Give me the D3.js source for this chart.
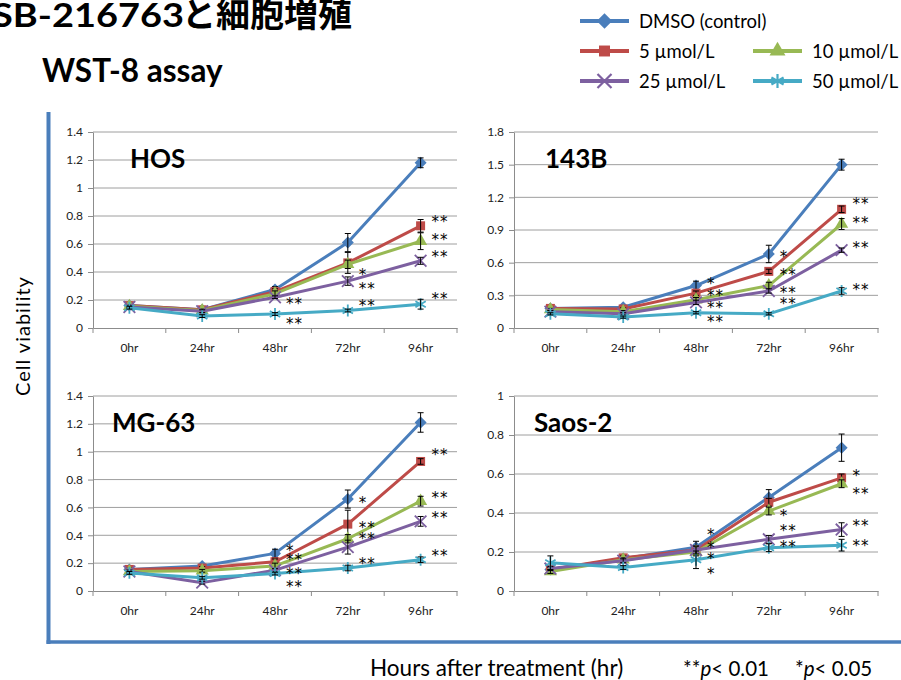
<!DOCTYPE html>
<html>
<head>
<meta charset="utf-8">
<script src="https://cdn.jsdelivr.net/npm/d3@7"></script>
<style>
  body { margin: 0; background: #fff; }
  svg { display: block; }
</style>
</head>
<body>
<div id="chart"></div>
<script>
// categories
const hours = ["0hr", "24hr", "48hr", "72hr", "96hr"];
const doses = ["DMSO (control)", "5 µmol/L", "10 µmol/L", "25 µmol/L", "50 µmol/L"];
const cellLines = ["HOS", "143B", "MG-63", "Saos-2"];

// mean values, one row per dose (DMSO, 5, 10, 25, 50)
const hosMeans = [
  [0.16, 0.13, 0.275, 0.61, 1.18],
  [0.16, 0.13, 0.26, 0.465, 0.73],
  [0.155, 0.125, 0.245, 0.455, 0.62],
  [0.15, 0.12, 0.22, 0.335, 0.48],
  [0.145, 0.085, 0.10, 0.125, 0.17]
];
const b143Means = [
  [0.18, 0.19, 0.39, 0.68, 1.50],
  [0.18, 0.175, 0.32, 0.52, 1.09],
  [0.17, 0.15, 0.26, 0.39, 0.955],
  [0.15, 0.13, 0.235, 0.34, 0.715],
  [0.13, 0.10, 0.14, 0.13, 0.34]
];
const mg63Means = [
  [0.155, 0.18, 0.27, 0.66, 1.21],
  [0.155, 0.165, 0.21, 0.48, 0.93],
  [0.14, 0.145, 0.18, 0.375, 0.645],
  [0.14, 0.06, 0.15, 0.315, 0.50],
  [0.13, 0.095, 0.125, 0.165, 0.225]
];
const saos2Means = [
  [0.11, 0.165, 0.225, 0.48, 0.735],
  [0.11, 0.17, 0.21, 0.455, 0.58],
  [0.10, 0.16, 0.20, 0.41, 0.55],
  [0.115, 0.155, 0.21, 0.265, 0.315],
  [0.145, 0.12, 0.16, 0.222, 0.235]
];

// error bars (+/-)
const hosErrors = [
  [0.01, 0.01, 0.02, 0.065, 0.035],
  [0.01, 0.01, 0.02, 0.075, 0.045],
  [0.01, 0.01, 0.02, 0.03, 0.06],
  [0.01, 0.01, 0.01, 0.03, 0.025],
  [0.01, 0.01, 0.01, 0.01, 0.035]
];
const b143Errors = [
  [0.01, 0.01, 0.04, 0.08, 0.05],
  [0.01, 0.01, 0.02, 0.02, 0.03],
  [0.01, 0.01, 0.02, 0.03, 0.05],
  [0.01, 0.01, 0.02, 0.02, 0.02],
  [0.01, 0.01, 0.01, 0.01, 0.03]
];
const mg63Errors = [
  [0.01, 0.01, 0.03, 0.065, 0.07],
  [0.01, 0.01, 0.02, 0.1, 0.02],
  [0.01, 0.01, 0.02, 0.03, 0.035],
  [0.01, 0.01, 0.01, 0.05, 0.035],
  [0.01, 0.01, 0.01, 0.02, 0.02]
];
const saos2Errors = [
  [0.01, 0.01, 0.03, 0.04, 0.07],
  [0.01, 0.01, 0.02, 0.02, 0.02],
  [0.01, 0.01, 0.02, 0.02, 0.02],
  [0.01, 0.01, 0.02, 0.02, 0.035],
  [0.035, 0.01, 0.045, 0.02, 0.03]
];

// significance marks: [time, value, label]
const hosStars = [
  ["48hr", 0.2, "**"], ["48hr", 0.055, "**"],
  ["72hr", 0.405, "*"], ["72hr", 0.305, "**"], ["72hr", 0.18, "**"],
  ["96hr", 0.78, "**"], ["96hr", 0.655, "**"], ["96hr", 0.53, "**"], ["96hr", 0.23, "**"]
];
const b143Stars = [
  ["48hr", 0.435, "*"], ["48hr", 0.33, "**"], ["48hr", 0.22, "**"], ["48hr", 0.083, "**"],
  ["72hr", 0.68, "*"], ["72hr", 0.515, "**"], ["72hr", 0.35, "**"], ["72hr", 0.25, "**"],
  ["96hr", 1.17, "**"], ["96hr", 1.0, "**"], ["96hr", 0.765, "**"], ["96hr", 0.385, "**"]
];
const mg63Stars = [
  ["48hr", 0.315, "*"], ["48hr", 0.245, "**"], ["48hr", 0.15, "**"], ["48hr", 0.055, "**"],
  ["72hr", 0.655, "*"], ["72hr", 0.48, "**"], ["72hr", 0.395, "**"], ["72hr", 0.22, "**"],
  ["96hr", 1.0, "**"], ["96hr", 0.69, "**"], ["96hr", 0.55, "**"], ["96hr", 0.28, "**"]
];
const saos2Stars = [
  ["48hr", 0.305, "*"], ["48hr", 0.24, "*"], ["48hr", 0.183, "*"], ["48hr", 0.103, "*"],
  ["72hr", 0.405, "*"], ["72hr", 0.325, "**"], ["72hr", 0.245, "**"],
  ["96hr", 0.607, "*"], ["96hr", 0.516, "**"], ["96hr", 0.35, "**"], ["96hr", 0.25, "**"]
];

// y tick labels
const hosTicks = [0, 0.2, 0.4, 0.6, 0.8, 1, 1.2, 1.4];
const b143Ticks = [0, 0.3, 0.6, 0.9, 1.2, 1.5, 1.8];
const mg63Ticks = [0, 0.2, 0.4, 0.6, 0.8, 1, 1.2, 1.4];
const saos2Ticks = [0, 0.2, 0.4, 0.6, 0.8, 1];

const width = 901;
const height = 680;
const font = "Lato, 'Noto Sans', sans-serif";
const blue = "#4a7ebb";

// Excel style diamond (as wide as it is tall)
const squareDiamond = {
  draw(ctx, size) {
    const r = Math.sqrt(size / 2);
    ctx.moveTo(0, -r);
    ctx.lineTo(r, 0);
    ctx.lineTo(0, r);
    ctx.lineTo(-r, 0);
    ctx.closePath();
  }
};

const colors = ["#4a7ebb", "#be4b48", "#98b954", "#7d60a0", "#46aac5"];
const symbols = [squareDiamond, d3.symbolSquare, d3.symbolTriangle, d3.symbolTimes, d3.symbolAsterisk];
const symbolSize = [72, 81, 75, 90, 100];
const stroked = [false, false, false, true, true];

const svg = d3.select("#chart")
  .append("svg")
  .attr("width", width)
  .attr("height", height)
  .style("font-family", font);

// panel layout
const panels = [
  { name: cellLines[0], means: hosMeans, errs: hosErrors, stars: hosStars, ticks: hosTicks,
    left: 93, right: 457, bottom: 328, top: 132, tx: 130, ty: 168 },
  { name: cellLines[1], means: b143Means, errs: b143Errors, stars: b143Stars, ticks: b143Ticks,
    left: 514, right: 878, bottom: 328, top: 132, tx: 545, ty: 168 },
  { name: cellLines[2], means: mg63Means, errs: mg63Errors, stars: mg63Stars, ticks: mg63Ticks,
    left: 93, right: 457, bottom: 591, top: 396, tx: 112, ty: 432 },
  { name: cellLines[3], means: saos2Means, errs: saos2Errors, stars: saos2Stars, ticks: saos2Ticks,
    left: 514, right: 878, bottom: 591, top: 396, tx: 534, ty: 432 }
];

panels.forEach(p => {
  const g = svg.append("g");

  const x = d3.scaleBand()
    .domain(hours)
    .range([p.left, p.right]);
  const y = d3.scaleLinear()
    .domain([0, d3.max(p.ticks)])
    .range([p.bottom, p.top]);
  const cx = h => x(h) + x.bandwidth() / 2;

  // gridlines
  g.append("g")
    .selectAll("line")
    .data(p.ticks.slice(1))
    .join("line")
    .attr("x1", p.left)
    .attr("x2", p.right)
    .attr("y1", d => y(d))
    .attr("y2", d => y(d))
    .attr("stroke", "#9e9e9e")
    .attr("stroke-width", 1);

  // y axis
  const ya = g.append("g")
    .attr("transform", `translate(${p.left},0)`)
    .call(d3.axisLeft(y).tickValues(p.ticks).tickSize(5).tickSizeOuter(0).tickPadding(5).tickFormat(d => String(d)));
  ya.select(".domain").attr("stroke", "#8c8c8c");
  ya.selectAll(".tick line").attr("stroke", "#8c8c8c");
  ya.selectAll("text").attr("font-size", 12).attr("font-family", font).attr("fill", "#222");

  // x axis
  const xa = g.append("g")
    .attr("transform", `translate(0,${p.bottom})`)
    .call(d3.axisBottom(x).tickSize(0).tickSizeOuter(0).tickPadding(15));
  xa.select(".domain").attr("stroke", "#8c8c8c");
  xa.selectAll("text").attr("font-size", 12).attr("font-family", font).attr("fill", "#222");
  xa.selectAll(".edge")
    .data(hours.map(h => x(h)).concat([p.right]))
    .join("line")
    .attr("class", "edge")
    .attr("x1", d => d)
    .attr("x2", d => d)
    .attr("y1", 0)
    .attr("y2", 5)
    .attr("stroke", "#8c8c8c");

  // series lines and markers
  p.means.forEach((vals, i) => {
    const pts = vals.map((v, j) => ({ h: hours[j], v: v, e: p.errs[i][j] }));
    g.append("path")
      .datum(pts)
      .attr("fill", "none")
      .attr("stroke", colors[i])
      .attr("stroke-width", 3)
      .attr("stroke-linejoin", "round")
      .attr("d", d3.line().x(d => cx(d.h)).y(d => y(d.v)));

    g.append("g")
      .selectAll("path")
      .data(pts)
      .join("path")
      .attr("transform", d => `translate(${cx(d.h)},${y(d.v)})`)
      .attr("d", d3.symbol().type(symbols[i]).size(symbolSize[i]))
      .attr("fill", stroked[i] ? "none" : colors[i])
      .attr("stroke", stroked[i] ? colors[i] : "none")
      .attr("stroke-width", 1.8);

    // error bars
    const eb = g.append("g")
      .selectAll("g")
      .data(pts)
      .join("g")
      .attr("stroke", "#000")
      .attr("stroke-width", 1);
    eb.append("line")
      .attr("x1", d => cx(d.h)).attr("x2", d => cx(d.h))
      .attr("y1", d => y(d.v - d.e)).attr("y2", d => y(d.v + d.e));
    eb.append("line")
      .attr("x1", d => cx(d.h) - 3).attr("x2", d => cx(d.h) + 3)
      .attr("y1", d => y(d.v + d.e)).attr("y2", d => y(d.v + d.e));
    eb.append("line")
      .attr("x1", d => cx(d.h) - 3).attr("x2", d => cx(d.h) + 3)
      .attr("y1", d => y(d.v - d.e)).attr("y2", d => y(d.v - d.e));
  });

  // significance marks
  g.append("g")
    .selectAll("text")
    .data(p.stars)
    .join("text")
    .attr("x", d => cx(d[0]) + 11)
    .attr("y", d => y(d[1]) + 8.5)
    .attr("font-family", "'DejaVu Sans', sans-serif")
    .attr("font-size", 15)
    .attr("letter-spacing", 1)
    .attr("fill", "#000")
    .text(d => d[2]);

  // panel title
  g.append("text")
    .attr("x", p.tx)
    .attr("y", p.ty)
    .attr("font-size", 26)
    .attr("font-weight", "bold")
    .attr("fill", "#000")
    .text(p.name);
});

// frame lines
svg.append("line")
  .attr("x1", 48.5).attr("x2", 48.5)
  .attr("y1", 112).attr("y2", 644)
  .attr("stroke", blue).attr("stroke-width", 4);
svg.append("line")
  .attr("x1", 46.5).attr("x2", width)
  .attr("y1", 642).attr("y2", 642)
  .attr("stroke", blue).attr("stroke-width", 3.5);

// titles (the slide title runs off the left edge)
svg.append("text")
  .attr("x", 184)
  .attr("y", 27)
  .attr("text-anchor", "end")
  .attr("font-size", 32)
  .attr("font-weight", "bold")
  .attr("textLength", 192)
  .attr("lengthAdjust", "spacingAndGlyphs")
  .text("SB-216763");
svg.append("text")
  .attr("x", 182)
  .attr("y", 27)
  .attr("font-family", "'Noto Sans CJK JP', sans-serif")
  .attr("font-size", 34)
  .attr("font-weight", "bold")
  .text("と細胞増殖");
svg.append("text")
  .attr("x", 42)
  .attr("y", 82)
  .attr("font-size", 31.5)
  .attr("font-weight", "bold")
  .text("WST-8 assay");

// axis titles
svg.append("text")
  .attr("transform", "translate(30,336) rotate(-90)")
  .attr("text-anchor", "middle")
  .attr("font-size", 20)
  .attr("letter-spacing", 1)
  .text("Cell  viability");
svg.append("text")
  .attr("x", 370)
  .attr("y", 676)
  .attr("font-size", 22.5)
  .text("Hours after treatment (hr)");

const note = svg.append("g").attr("font-size", 20.5);
const n1 = note.append("text").attr("x", 683).attr("y", 676);
n1.append("tspan").text("**");
n1.append("tspan").attr("font-style", "italic").text("p");
n1.append("tspan").text("< 0.01");
const n2 = note.append("text").attr("x", 795).attr("y", 676);
n2.append("tspan").text("*");
n2.append("tspan").attr("font-style", "italic").text("p");
n2.append("tspan").text("< 0.05");

// legend
const legendPos = [
  { x: 580, y: 21 },
  { x: 580, y: 51 },
  { x: 753, y: 51 },
  { x: 580, y: 81 },
  { x: 753, y: 81 }
];
const legendSize = [120, 120, 110, 130, 140];
const legend = svg.append("g")
  .selectAll("g")
  .data(doses)
  .join("g")
  .attr("transform", (d, i) => `translate(${legendPos[i].x},${legendPos[i].y})`);
legend.append("line")
  .attr("x1", 0).attr("x2", 49)
  .attr("y1", 0).attr("y2", 0)
  .attr("stroke", (d, i) => colors[i])
  .attr("stroke-width", 4);
legend.append("path")
  .attr("transform", "translate(24.5,0)")
  .attr("d", (d, i) => d3.symbol().type(symbols[i]).size(legendSize[i])())
  .attr("fill", (d, i) => stroked[i] ? "none" : colors[i])
  .attr("stroke", (d, i) => stroked[i] ? colors[i] : "none")
  .attr("stroke-width", 2.2);
legend.append("text")
  .attr("x", 59)
  .attr("y", 7)
  .attr("font-size", 18.5)
  .text(d => d);
</script>
</body>
</html>
